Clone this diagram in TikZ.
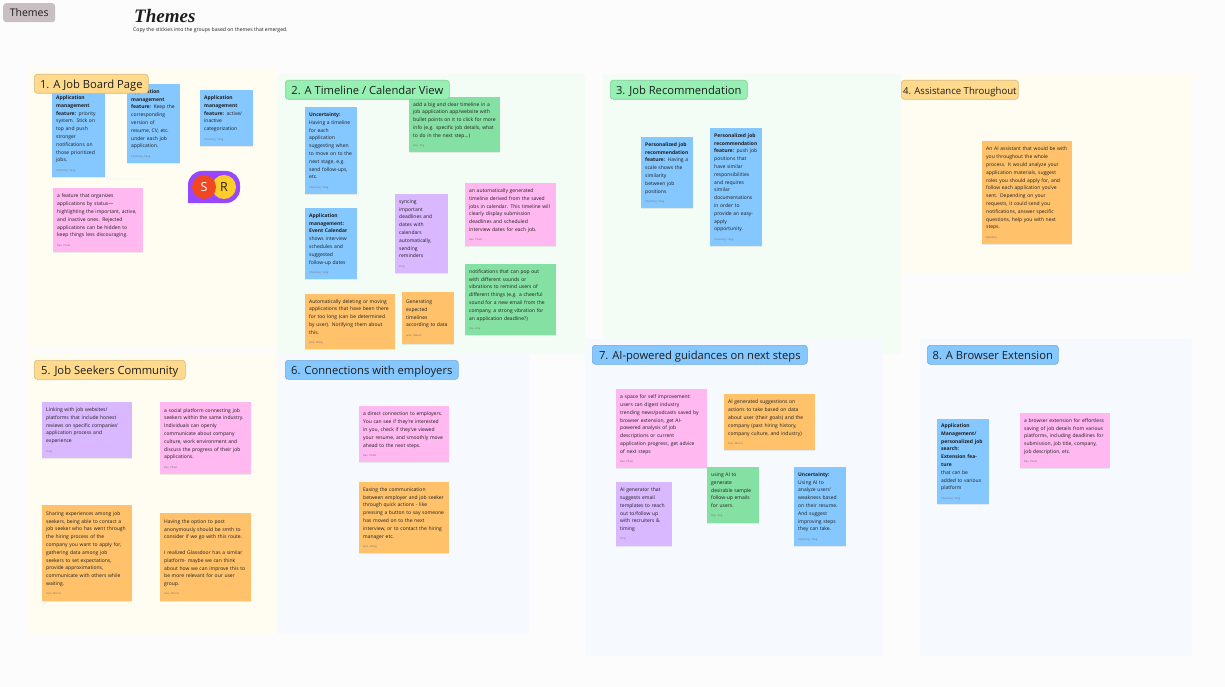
\documentclass[tikz,border=0pt]{standalone}
\usepackage{fontspec}
\setmainfont{Open Sans}
\newfontfamily\handfont{Liberation Serif}
\usepackage{xcolor}
\usetikzlibrary{shadows}

\definecolor{pagebg}{HTML}{FCFCFD}
\definecolor{paleyellow}{HTML}{FFFDF1}
\definecolor{palegreen}{HTML}{F3FDF5}
\definecolor{paleblue}{HTML}{F6FAFE}
\definecolor{noteblue}{HTML}{85C7FF}
\definecolor{notegreen}{HTML}{85E0A3}
\definecolor{notepink}{HTML}{FFB8F0}
\definecolor{notepurple}{HTML}{D9B8FF}
\definecolor{noteorange}{HTML}{FFC26B}
\definecolor{tagyellow}{HTML}{FFD98C}
\definecolor{taggreen}{HTML}{97F0B3}
\definecolor{tagblue}{HTML}{85C7FF}
\definecolor{tagplain}{HTML}{C9BFC2}
\definecolor{inkdark}{HTML}{1E1E1E}
\definecolor{avatarbg}{HTML}{9747FF}
\definecolor{avatarred}{HTML}{F24822}
\definecolor{avataryellow}{HTML}{FFCD29}

\tikzset{
    panel/.style={anchor=north west,inner sep=0pt,rounded corners=2pt},
    note/.style={anchor=north west,inner xsep=4pt,inner ysep=4.5pt,align=left,text=inkdark,
        font=\fontsize{5}{7.8}\selectfont,
        drop shadow={opacity=0.15,shadow xshift=0pt,shadow yshift=-1pt}},
    tag/.style={anchor=north west,inner sep=0pt,rounded corners=3pt,draw,line width=0.6pt,
        text=inkdark,font=\fontsize{11.2}{13}\selectfont,minimum height=19pt,text height=9pt,text depth=0pt},
    avatar/.style={circle,inner sep=0pt,minimum size=24pt,font=\fontsize{12.5}{14}\selectfont}
}
\newcommand{\sig}[1]{\\[1.5pt]{\fontsize{2.6}{7.8}\selectfont\color{black!55}#1}}

\begin{document}
\begin{tikzpicture}[x=1pt,y=-1pt]
    \useasboundingbox (0,0) rectangle (1225,687);
    \fill[pagebg] (0,0) rectangle (1225,687);

    \node[panel,fill=paleyellow,minimum width=250pt,minimum height=280pt] (panel1) at (28,68) {};
    \node[panel,fill=palegreen,minimum width=307pt,minimum height=280pt] (panel2) at (278,74) {};
    \node[panel,fill=palegreen,minimum width=298pt,minimum height=280pt] (panel3) at (603,74) {};
    \node[panel,fill=paleyellow,minimum width=291pt,minimum height=199pt] (panel4) at (901,74) {};
    \node[panel,fill=paleyellow,minimum width=250pt,minimum height=280pt] (panel5) at (28,354) {};
    \node[panel,fill=paleblue,minimum width=251pt,minimum height=280pt] (panel6) at (278,354) {};
    \node[panel,fill=paleblue,minimum width=297pt,minimum height=317pt] (panel7) at (585,339) {};
    \node[panel,fill=paleblue,minimum width=272pt,minimum height=317pt] (panel8) at (920,339) {};

    \node[anchor=north west,inner sep=0pt,rounded corners=3pt,fill=tagplain,text=inkdark,
        minimum width=52pt,minimum height=19pt,font=\fontsize{10.5}{12}\selectfont] (boardtag) at (3,3) {Themes};
    \node[anchor=west,inner sep=0pt,text=inkdark,font=\handfont\bfseries\itshape\fontsize{19}{21}\selectfont] (boardtitle) at (134,16) {Themes};
    \node[anchor=west,inner sep=0pt,text=inkdark,font=\fontsize{5.1}{6}\selectfont] (boardhint) at (133,30.5) {Copy the stickies into the groups based on themes that emerged.};

    \node[note,fill=noteblue,text width=45pt,minimum width=53pt,minimum height=87pt] (job1) at (52,90)
        {\textbf{Application}\\\textbf{management}\\\textbf{feature:} priority\\system. Stick on\\top and push\\stronger\\notifications on\\those prioritized\\jobs.\sig{Channing Yang}};
    \node[note,fill=noteblue,text width=45pt,minimum width=53pt,minimum height=79pt] (job2) at (127,84)
        {\textbf{Application}\\\textbf{management}\\\textbf{feature:} Keep the\\corresponding\\version of\\resume, CV, etc.\\under each job\\application.\sig{Channing Yang}};
    \node[note,fill=noteblue,text width=45pt,minimum width=53pt,minimum height=56pt] (job3) at (200,90)
        {\textbf{Application}\\\textbf{management}\\\textbf{feature:} active/\\inactive\\categorization\sig{Channing Yang}};
    \node[note,fill=notepink,text width=82pt,minimum width=90pt,minimum height=64pt] (job4) at (53,188)
        {a feature that organizes\\applications by status---\\highlighting the important, active,\\and inactive ones. Rejected\\applications can be hidden to\\keep things less discouraging.\sig{Rae Pham}};

    \fill[fill=avatarbg,rounded corners=14pt] (188,203) [sharp corners] -- (188,187) [rounded corners=14pt] -- (188,171) -- (240,171) -- (240,203) [sharp corners] -- cycle;
    \node[avatar,fill=avataryellow,text=inkdark] (avatarr) at (224,187) {R};
    \node[avatar,fill=avatarred,text=white] (avatars) at (204,187) {S};

    \node[note,fill=noteblue,text width=44pt,minimum width=52pt,minimum height=87pt] (time1) at (305,107)
        {\textbf{Uncertainty:}\\Having a timeline\\for each\\application\\suggesting when\\to move on to the\\next stage, e.g.\\send follow-ups,\\etc.\sig{Channing Yang}};
    \node[note,fill=notegreen,text width=83pt,minimum width=91pt,minimum height=55pt] (time2) at (409,97)
        {add a big and clear timeline in a\\job application app/website with\\bullet points on it to click for more\\info (e.g. specific job details, what\\to do in the next step...)\sig{Hay Ang}};
    \node[note,fill=notepurple,text width=45pt,minimum width=53pt,minimum height=79pt] (time3) at (395,194)
        {syncing\\important\\deadlines and\\dates with\\calendars\\automatically,\\sending\\reminders\sig{Tony}};
    \node[note,fill=notepink,text width=83pt,minimum width=91pt,minimum height=63pt] (time4) at (465,183)
        {an automatically generated\\timeline derived from the saved\\jobs in calendar. This timeline will\\clearly display submission\\deadlines and scheduled\\interview dates for each job.\sig{Rae Pham}};
    \node[note,fill=noteblue,text width=44pt,minimum width=52pt,minimum height=71pt] (time5) at (305,208)
        {\textbf{Application}\\\textbf{management:}\\\textbf{Event Calendar}\\shows interview\\schedules and\\suggested\\follow-up dates\sig{Channing Yang}};
    \node[note,fill=noteorange,text width=82pt,minimum width=90pt,minimum height=55pt] (time6) at (305,294)
        {Automatically deleting or moving\\applications that have been there\\for too long (can be determined\\by user). Notifying them about\\this.\sig{Jane Wang}};
    \node[note,fill=noteorange,text width=44pt,minimum width=52pt,minimum height=52pt] (time7) at (402,292)
        {Generating\\expected\\timelines\\according to data\sig{Jade Nelson}};
    \node[note,fill=notegreen,text width=83pt,minimum width=91pt,minimum height=71pt] (time8) at (465,264)
        {notifications that can pop out\\with different sounds or\\vibrations to remind users of\\different things (e.g. a cheerful\\sound for a new email from the\\company, a strong vibration for\\an application deadline?)\sig{Hay Ang}};

    \node[note,fill=noteblue,text width=44pt,minimum width=52pt,minimum height=71pt] (rec1) at (641,137)
        {\textbf{Personalized job}\\\textbf{recommendation}\\\textbf{feature:} Having a\\scale shows the\\similarity\\between job\\positions\sig{Channing Yang}};
    \node[note,fill=noteblue,text width=44pt,minimum width=52pt,minimum height=118pt] (rec2) at (710,128)
        {\textbf{Personalized job}\\\textbf{recommendation}\\\textbf{feature:} push job\\positions that\\have similar\\responsibilities\\and requires\\similar\\documentations\\in order to\\provide an easy-\\apply\\opportunity.\sig{Channing Yang}};

    \node[note,fill=noteorange,text width=82pt,minimum width=90pt,minimum height=103pt] (help1) at (982,141)
        {An AI assistant that would be with\\you throughout the whole\\process. It would analyze your\\application materials, suggest\\roles you should apply for, and\\follow each application you've\\sent. Depending on your\\requests, it could send you\\notifications, answer specific\\questions, help you with next\\steps.\sig{Rakshita}};

    \node[note,fill=notepurple,text width=82pt,minimum width=90pt,minimum height=56pt] (com1) at (42,402)
        {Linking with job websites/\\platforms that include honest\\reviews on specific companies'\\application process and\\experience\sig{Tony}};
    \node[note,fill=notepink,text width=83pt,minimum width=91pt,minimum height=72pt] (com2) at (160,402)
        {a social platform connecting job\\seekers within the same industry.\\Individuals can openly\\communicate about company\\culture, work environment and\\discuss the progress of their job\\applications.\sig{Rae Pham}};
    \node[note,fill=noteorange,text width=82pt,minimum width=90pt,minimum height=96pt] (com3) at (42,505)
        {Sharing experiences among job\\seekers, being able to contact a\\job seeker who has went through\\the hiring process of the\\company you want to apply for,\\gathering data among job\\seekers to set expectations,\\provide approximations,\\communicate with others while\\waiting.\sig{Sara Morris}};
    \node[note,fill=noteorange,text width=83pt,minimum width=91pt,minimum height=88pt] (com4) at (160,513)
        {Having the option to post\\anonymously should be smth to\\consider if we go with this route.\\[7.8pt]I realized Glassdoor has a similar\\platform- maybe we can think\\about how we can improve this to\\be more relevant for our user\\group.\sig{Sara Morris}};

    \node[note,fill=notepink,text width=82pt,minimum width=90pt,minimum height=56pt] (emp1) at (359,406)
        {a direct connection to employers.\\You can see if they're interested\\in you, check if they've viewed\\your resume, and smoothly move\\ahead to the next steps.\sig{Rae Pham}};
    \node[note,fill=noteorange,text width=82pt,minimum width=90pt,minimum height=71pt] (emp2) at (359,482)
        {Easing the communication\\between employer and job seeker\\through quick actions - like\\pressing a button to say someone\\has moved on to the next\\interview, or to contact the hiring\\manager etc.\sig{Jane Wang}};

    \node[note,fill=notepink,text width=83pt,minimum width=91pt,minimum height=79pt] (next1) at (616,389)
        {a space for self improvement:\\users can digest industry\\trending news/podcasts saved by\\browser extension, get AI-\\powered analysis of job\\descriptions or current\\application progress, get advice\\of next steps\sig{Rae Pham}};
    \node[note,fill=noteorange,text width=83pt,minimum width=91pt,minimum height=56pt] (next2) at (724,394)
        {AI generated suggestions on\\actions to take based on data\\about user (their goals) and the\\company (past hiring history,\\company culture, and industry)\sig{Sara Morris}};
    \node[note,fill=notepurple,text width=48pt,minimum width=56pt,minimum height=64pt] (next3) at (616,482)
        {AI generator that\\suggests email\\templates to reach\\out to/follow up\\with recruiters \&\\timing\sig{Tony}};
    \node[note,fill=notegreen,text width=44pt,minimum width=52pt,minimum height=56pt] (next4) at (707,467)
        {using AI to\\generate\\desirable sample\\follow-up emails\\for users.\sig{Hay Ang}};
    \node[note,fill=noteblue,text width=44pt,minimum width=52pt,minimum height=79pt] (next5) at (794,467)
        {\textbf{Uncertainty:}\\Using AI to\\analyze users'\\weakness based\\on their resume.\\And suggest\\improving steps\\they can take.\sig{Channing Yang}};

    \node[note,fill=noteblue,text width=44pt,minimum width=51pt,minimum height=80pt] (ext1) at (937,419)
        {\textbf{Application}\\\textbf{Management/}\\\textbf{personalized job}\\\textbf{search:}\\\textbf{Extension feature}\\that can be\\added to various\\platform\sig{Channing Yang}};
    \node[note,fill=notepink,text width=82pt,minimum width=90pt,minimum height=55pt] (ext2) at (1020,413)
        {a browser extension for effortless\\saving of job details from various\\platforms, including deadlines for\\submission, job title, company,\\job description, etc.\sig{Rae Pham}};

    \node[tag,fill=tagyellow,draw=tagyellow!85!black,minimum width=114pt] (title1) at (34,74) {1. A Job Board Page};
    \node[tag,fill=taggreen,draw=taggreen!85!black,minimum width=164pt] (title2) at (285,80) {2. A Timeline / Calendar View};
    \node[tag,fill=taggreen,draw=taggreen!85!black,minimum width=137pt] (title3) at (610,80) {3. Job Recommendation};
    \node[tag,fill=tagyellow,draw=tagyellow!85!black,minimum width=117pt,font=\fontsize{9.6}{13}\selectfont] (title4) at (901,80) {4. Assistance Throughout};
    \node[tag,fill=tagyellow,draw=tagyellow!85!black,minimum width=151pt] (title5) at (34,360) {5. Job Seekers Community};
    \node[tag,fill=tagblue,draw=tagblue!85!black,minimum width=173pt] (title6) at (285,360) {6. Connections with employers};
    \node[tag,fill=tagblue,draw=tagblue!85!black,minimum width=215pt] (title7) at (592,345) {7. AI-powered guidances on next steps};
    \node[tag,fill=tagblue,draw=tagblue!85!black,minimum width=131pt] (title8) at (927,345) {8. A Browser Extension};
\end{tikzpicture}
\end{document}
